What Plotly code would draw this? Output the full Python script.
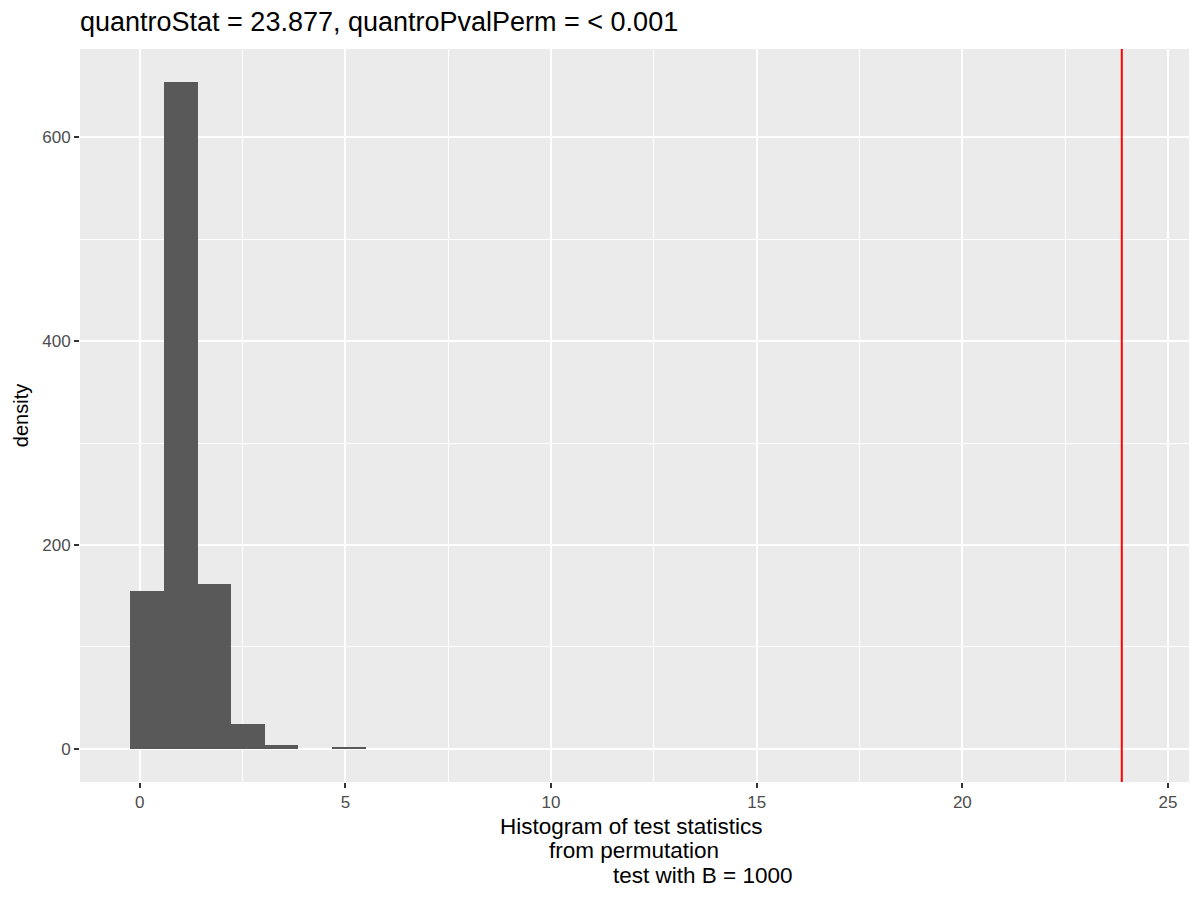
import plotly.graph_objects as go

# permutation test statistics, binned (ggplot default 30 bins)
bin_centers = [0.18, 0.997, 1.814, 2.631, 3.448, 4.265, 5.082]
bin_counts = [155, 654, 162, 24, 4, 0, 1]
bin_width = 0.817
quantro_stat = 23.877
x_ticks = [0, 5, 10, 15, 20, 25]
y_ticks = [0, 200, 400, 600]
xlab_lines = ["Histogram of test statistics", "from permutation", "test with B = 1000"]

fig = go.Figure()
fig.add_trace(go.Bar(
    x=bin_centers,
    y=bin_counts,
    width=bin_width,
    marker=dict(color="#595959", line=dict(width=0)),
    showlegend=False,
))
# observed statistic
fig.add_vline(x=quantro_stat, line=dict(color="red", width=2))

# x label: three lines, the last one pushed right like in the original
plot_w = 1200 - 72 - 19
plot_h = 900 - 41 - 126
xlab_pos = [(623.5, 44), (626, 68.5), (694.5, 93)]
for txt, (px, dy) in zip(xlab_lines, xlab_pos):
    fig.add_annotation(
        text=txt, xref="paper", yref="paper",
        x=(px - 72) / plot_w, y=-dy / plot_h,
        xanchor="center", yanchor="middle", showarrow=False,
        font=dict(size=22.5, color="black"),
    )

fig.update_layout(
    width=1200,
    height=900,
    margin=dict(l=72, r=19, t=41, b=126),
    paper_bgcolor="white",
    plot_bgcolor="#EBEBEB",
    bargap=0,
    font=dict(family="Liberation Sans, Arial, sans-serif", color="black"),
    title=dict(
        text="quantroStat = 23.877, quantroPvalPerm = < 0.001",
        x=72 / 1200, xanchor="left", y=1 - 14 / 900, yanchor="middle",
        font=dict(size=27, color="black"),
    ),
)
fig.update_xaxes(
    range=[-1.454, 25.511],
    tickvals=x_ticks,
    ticks="outside", ticklen=5, tickwidth=2, tickcolor="#333333",
    tickfont=dict(size=17, color="#4D4D4D"),
    showgrid=True, gridcolor="white", gridwidth=2,
    minor=dict(tickvals=[2.5, 7.5, 12.5, 17.5, 22.5], showgrid=True,
               gridcolor="white", gridwidth=1, ticks=""),
    zeroline=False, showline=False,
)
fig.update_yaxes(
    range=[-32.7, 686.7],
    tickvals=y_ticks,
    ticks="outside", ticklen=5, tickwidth=2, tickcolor="#333333",
    tickfont=dict(size=17, color="#4D4D4D"),
    showgrid=True, gridcolor="white", gridwidth=2,
    minor=dict(tickvals=[100, 300, 500], showgrid=True,
               gridcolor="white", gridwidth=1, ticks=""),
    zeroline=False, showline=False,
    title=dict(text="density", font=dict(size=20, color="black"), standoff=8),
)

fig.write_html("out.html")
